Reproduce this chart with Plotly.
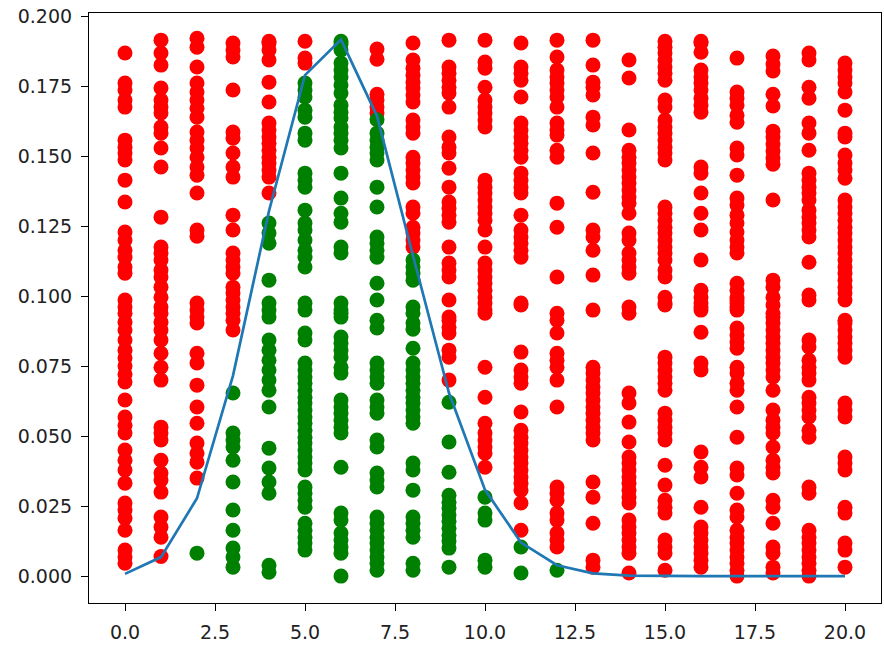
import plotly.graph_objects as go

# Binomial outcomes (x) and the probability curve
k_values = list(range(21))
pmf_values = [0.0008, 0.0068, 0.0278, 0.0716, 0.1304, 0.1789, 0.1916, 0.1643, 0.1144,
              0.0654, 0.0308, 0.0120, 0.0039, 0.0010, 0.0002, 0.0000, 0.0000, 0.0000,
              0.0000, 0.0000, 0.0000]

# Sampled heights per outcome (green if below curve, red otherwise)
y_samples = [
    [0.1868, 0.1761, 0.1736, 0.1700, 0.1675, 0.1557, 0.1532, 0.1511, 0.1486, 0.1414, 0.1336,
     0.1229, 0.1200, 0.1164, 0.1139, 0.1104, 0.1082, 0.0986, 0.0961, 0.0939, 0.0907, 0.0879,
     0.0843, 0.0807, 0.0779, 0.0750, 0.0721, 0.0693, 0.0629, 0.0568, 0.0539, 0.0511, 0.0450,
     0.0414, 0.0379, 0.0332, 0.0261, 0.0236, 0.0207, 0.0164, 0.0093, 0.0068, 0.0046],
    [0.1914, 0.1868, 0.1825, 0.1743, 0.1700, 0.1675, 0.1654, 0.1604, 0.1582, 0.1529, 0.1461,
     0.1282, 0.1175, 0.1154, 0.1129, 0.1093, 0.1068, 0.1032, 0.0996, 0.0961, 0.0939, 0.0907,
     0.0879, 0.0843, 0.0796, 0.0746, 0.0700, 0.0532, 0.0511, 0.0486, 0.0414, 0.0368, 0.0343,
     0.0300, 0.0211, 0.0175, 0.0139, 0.0070],
    [0.1921, 0.1889, 0.1818, 0.1761, 0.1729, 0.1700, 0.1671, 0.1639, 0.1586, 0.1557, 0.1529,
     0.1496, 0.1461, 0.1432, 0.1368, 0.1236, 0.1214, 0.0975, 0.0950, 0.0925, 0.0904, 0.0796,
     0.0761, 0.0682, 0.0604, 0.0546, 0.0475, 0.0439, 0.0407, 0.0350, 0.0082],
    [0.1904, 0.1879, 0.1854, 0.1736, 0.1586, 0.1564, 0.1511, 0.1461, 0.1425, 0.1289, 0.1236,
     0.1154, 0.1129, 0.1104, 0.1082, 0.1032, 0.1011, 0.0986, 0.0961, 0.0939, 0.0914, 0.0879,
     0.0654, 0.0511, 0.0486, 0.0461, 0.0414, 0.0336, 0.0236, 0.0164, 0.0100, 0.0068, 0.0032],
    [0.1910, 0.1904, 0.1879, 0.1843, 0.1764, 0.1693, 0.1618, 0.1593, 0.1568, 0.1546, 0.1521,
     0.1496, 0.1475, 0.1450, 0.1425, 0.1368, 0.1261, 0.1225, 0.1189, 0.1057, 0.0975, 0.0950,
     0.0925, 0.0843, 0.0807, 0.0771, 0.0736, 0.0700, 0.0664, 0.0604, 0.0457, 0.0386, 0.0336,
     0.0296, 0.0039, 0.0014],
    [0.1910, 0.1850, 0.1832, 0.1761, 0.1736, 0.1711, 0.1664, 0.1639, 0.1582, 0.1557, 0.1439,
     0.1414, 0.1389, 0.1307, 0.1261, 0.1236, 0.1200, 0.1164, 0.1139, 0.1104, 0.0975, 0.0950,
     0.0868, 0.0843, 0.0761, 0.0736, 0.0711, 0.0689, 0.0664, 0.0639, 0.0618, 0.0593, 0.0568,
     0.0546, 0.0521, 0.0496, 0.0475, 0.0450, 0.0425, 0.0404, 0.0379, 0.0318, 0.0296, 0.0271,
     0.0246, 0.0189, 0.0164, 0.0139, 0.0118, 0.0093],
    [0.1910, 0.1900, 0.1879, 0.1832, 0.1807, 0.1782, 0.1754, 0.1725, 0.1682, 0.1657, 0.1636,
     0.1604, 0.1582, 0.1557, 0.1529, 0.1439, 0.1350, 0.1296, 0.1264, 0.1175, 0.1154, 0.0975,
     0.0950, 0.0925, 0.0939, 0.0854, 0.0832, 0.0807, 0.0782, 0.0746, 0.0725, 0.0629, 0.0604,
     0.0582, 0.0557, 0.0532, 0.0511, 0.0389, 0.0225, 0.0200, 0.0154, 0.0129, 0.0104, 0.0082,
     0.0000],
    [0.1882, 0.1846, 0.1721, 0.1700, 0.1675, 0.1654, 0.1630, 0.1582, 0.1557, 0.1532, 0.1511,
     0.1486, 0.1389, 0.1318, 0.1211, 0.1189, 0.1164, 0.1139, 0.1046, 0.0986, 0.0914, 0.0886,
     0.0761, 0.0736, 0.0711, 0.0689, 0.0629, 0.0604, 0.0582, 0.0486, 0.0461, 0.0368, 0.0343,
     0.0318, 0.0211, 0.0189, 0.0164, 0.0139, 0.0118, 0.0093, 0.0068, 0.0046, 0.0021],
    [0.1904, 0.1843, 0.1814, 0.1789, 0.1764, 0.1743, 0.1718, 0.1693, 0.1629, 0.1604, 0.1582,
     0.1496, 0.1475, 0.1450, 0.1425, 0.1404, 0.1318, 0.1296, 0.1246, 0.1225, 0.1200, 0.1175,
     0.1129, 0.1104, 0.1082, 0.1057, 0.0961, 0.0939, 0.0904, 0.0882, 0.0814, 0.0761, 0.0736,
     0.0711, 0.0689, 0.0664, 0.0639, 0.0618, 0.0593, 0.0568, 0.0546, 0.0404, 0.0379, 0.0307,
     0.0211, 0.0189, 0.0164, 0.0139, 0.0046, 0.0021],
    [0.1914, 0.1818, 0.1796, 0.1771, 0.1746, 0.1725, 0.1675, 0.1568, 0.1532, 0.1511, 0.1457,
     0.1389, 0.1336, 0.1314, 0.1289, 0.1264, 0.1175, 0.1118, 0.1093, 0.1068, 0.0986, 0.0925,
     0.0914, 0.0889, 0.0868, 0.0807, 0.0782, 0.0700, 0.0621, 0.0479, 0.0371, 0.0289, 0.0264,
     0.0243, 0.0218, 0.0196, 0.0171, 0.0146, 0.0125, 0.0100, 0.0032],
    [0.1914, 0.1836, 0.1814, 0.1746, 0.1700, 0.1675, 0.1654, 0.1629, 0.1604, 0.1414, 0.1389,
     0.1368, 0.1343, 0.1318, 0.1296, 0.1271, 0.1236, 0.1175, 0.1118, 0.1093, 0.1068, 0.1046,
     0.1021, 0.0996, 0.0939, 0.0975, 0.0950, 0.0746, 0.0639, 0.0546, 0.0511, 0.0486, 0.0461,
     0.0439, 0.0389, 0.0282, 0.0225, 0.0200, 0.0057, 0.0032],
    [0.1904, 0.1818, 0.1796, 0.1771, 0.1711, 0.1618, 0.1593, 0.1568, 0.1546, 0.1521, 0.1496,
     0.1439, 0.1414, 0.1389, 0.1368, 0.1289, 0.1236, 0.1211, 0.1189, 0.1164, 0.1139, 0.0975,
     0.0968, 0.0800, 0.0736, 0.0711, 0.0689, 0.0586, 0.0521, 0.0496, 0.0475, 0.0450, 0.0425,
     0.0404, 0.0379, 0.0354, 0.0332, 0.0307, 0.0261, 0.0164, 0.0104, 0.0011],
    [0.1914, 0.1854, 0.1807, 0.1782, 0.1761, 0.1736, 0.1711, 0.1675, 0.1618, 0.1593, 0.1575,
     0.1521, 0.1496, 0.1332, 0.1246, 0.1068, 0.0939, 0.0914, 0.0868, 0.0796, 0.0771, 0.0746,
     0.0700, 0.0604, 0.0318, 0.0296, 0.0271, 0.0225, 0.0200, 0.0154, 0.0129, 0.0104, 0.0021],
    [0.1914, 0.1825, 0.1764, 0.1746, 0.1718, 0.1639, 0.1611, 0.1511, 0.1371, 0.1236, 0.1211,
     0.1164, 0.1075, 0.0950, 0.0746, 0.0725, 0.0700, 0.0675, 0.0654, 0.0629, 0.0604, 0.0582,
     0.0557, 0.0532, 0.0511, 0.0486, 0.0336, 0.0282, 0.0189, 0.0057, 0.0032],
    [0.1843, 0.1779, 0.1593, 0.1521, 0.1496, 0.1475, 0.1450, 0.1425, 0.1404, 0.1379, 0.1354,
     0.1332, 0.1296, 0.1225, 0.1200, 0.1154, 0.1129, 0.1104, 0.1082, 0.0961, 0.0939, 0.0654,
     0.0618, 0.0550, 0.0479, 0.0425, 0.0404, 0.0379, 0.0354, 0.0332, 0.0307, 0.0282, 0.0261,
     0.0200, 0.0175, 0.0154, 0.0129, 0.0104, 0.0082, 0.0011],
    [0.1910, 0.1889, 0.1868, 0.1843, 0.1818, 0.1796, 0.1771, 0.1700, 0.1675, 0.1629, 0.1604,
     0.1582, 0.1557, 0.1532, 0.1511, 0.1486, 0.1318, 0.1296, 0.1271, 0.1246, 0.1225, 0.1200,
     0.1175, 0.1154, 0.1129, 0.1093, 0.1068, 0.0996, 0.0975, 0.0968, 0.0782, 0.0761, 0.0736,
     0.0711, 0.0689, 0.0664, 0.0582, 0.0557, 0.0532, 0.0511, 0.0486, 0.0396, 0.0325, 0.0271,
     0.0246, 0.0225, 0.0129, 0.0104, 0.0082, 0.0021],
    [0.1910, 0.1904, 0.1871, 0.1807, 0.1782, 0.1761, 0.1736, 0.1707, 0.1682, 0.1657, 0.1461,
     0.1439, 0.1368, 0.1296, 0.1236, 0.1129, 0.1021, 0.0996, 0.0961, 0.0975, 0.0950, 0.0871,
     0.0761, 0.0736, 0.0443, 0.0389, 0.0354, 0.0246, 0.0175, 0.0154, 0.0129, 0.0104, 0.0082,
     0.0057, 0.0032],
    [0.1850, 0.1729, 0.1707, 0.1682, 0.1646, 0.1621, 0.1529, 0.1504, 0.1432, 0.1350, 0.1325,
     0.1289, 0.1261, 0.1229, 0.1200, 0.1175, 0.1154, 0.1046, 0.1021, 0.0996, 0.0975, 0.0950,
     0.0986, 0.0961, 0.0886, 0.0861, 0.0836, 0.0814, 0.0746, 0.0725, 0.0689, 0.0664, 0.0604,
     0.0496, 0.0386, 0.0361, 0.0296, 0.0236, 0.0211, 0.0164, 0.0139, 0.0118, 0.0093, 0.0068,
     0.0046, 0.0021, 0.0000],
    [0.1857, 0.1829, 0.1804, 0.1721, 0.1679, 0.1589, 0.1568, 0.1543, 0.1518, 0.1493, 0.1471,
     0.1343, 0.1057, 0.1032, 0.0996, 0.0968, 0.0939, 0.0925, 0.0904, 0.0879, 0.0854, 0.0832,
     0.0807, 0.0782, 0.0761, 0.0736, 0.0711, 0.0664, 0.0593, 0.0557, 0.0532, 0.0511, 0.0461,
     0.0414, 0.0389, 0.0368, 0.0271, 0.0246, 0.0189, 0.0104, 0.0082, 0.0032, 0.0011],
    [0.1868, 0.1843, 0.1746, 0.1707, 0.1618, 0.1582, 0.1521, 0.1439, 0.1414, 0.1389, 0.1368,
     0.1343, 0.1307, 0.1282, 0.1261, 0.1236, 0.1211, 0.1121, 0.1004, 0.0986, 0.0843, 0.0818,
     0.0771, 0.0746, 0.0725, 0.0700, 0.0639, 0.0618, 0.0593, 0.0568, 0.0521, 0.0496, 0.0318,
     0.0296, 0.0164, 0.0139, 0.0118, 0.0093, 0.0068, 0.0046, 0.0021, 0.0000],
    [0.1832, 0.1807, 0.1782, 0.1761, 0.1729, 0.1664, 0.1582, 0.1568, 0.1504, 0.1475, 0.1450,
     0.1421, 0.1343, 0.1318, 0.1296, 0.1271, 0.1246, 0.1225, 0.1200, 0.1175, 0.1154, 0.1129,
     0.1104, 0.1082, 0.1057, 0.1032, 0.1011, 0.0914, 0.0986, 0.0904, 0.0879, 0.0854, 0.0832,
     0.0807, 0.0782, 0.0618, 0.0593, 0.0568, 0.0425, 0.0404, 0.0379, 0.0246, 0.0225, 0.0118,
     0.0093, 0.0032],
]

x_tick_vals = [0, 2.5, 5, 7.5, 10, 12.5, 15, 17.5, 20]
x_tick_text = ["0.0", "2.5", "5.0", "7.5", "10.0", "12.5", "15.0", "17.5", "20.0"]
y_tick_vals = [0, 0.025, 0.05, 0.075, 0.1, 0.125, 0.15, 0.175, 0.2]
y_tick_text = ["0.000", "0.025", "0.050", "0.075", "0.100", "0.125", "0.150", "0.175", "0.200"]

xs, ys, cols = [], [], []
for k, vals in zip(k_values, y_samples):
    for v in vals:
        xs.append(k)
        ys.append(v)
        cols.append("#008000" if v < pmf_values[k] else "#ff0000")

fig = go.Figure()
fig.add_trace(go.Scatter(x=xs, y=ys, mode="markers",
                         marker=dict(size=15, color=cols, line=dict(width=0)),
                         showlegend=False, hoverinfo="skip"))
fig.add_trace(go.Scatter(x=k_values, y=pmf_values, mode="lines",
                         line=dict(color="#1f77b4", width=2.7), showlegend=False,
                         hoverinfo="skip"))

axis_common = dict(showline=True, mirror=True, linecolor="black", linewidth=1.1,
                   ticks="outside", ticklen=7, tickwidth=1.1, tickcolor="black",
                   showgrid=False, zeroline=False, automargin=False,
                   ticklabelstandoff=5,
                   tickfont=dict(family="DejaVu Sans", size=19, color="#222222"))

fig.update_layout(
    width=884, height=645,
    margin=dict(l=89, r=3, t=13, b=42),
    paper_bgcolor="white", plot_bgcolor="white",
    hovermode=False,
    xaxis=dict(range=[-1.0, 21.0], tickvals=x_tick_vals, ticktext=x_tick_text, **axis_common),
    yaxis=dict(range=[-0.0096, 0.2011], tickvals=y_tick_vals, ticktext=y_tick_text,
               ticklabeloverflow="allow", **axis_common),
)

# remove the page's default body margin so the figure sits at the window's corner
fig.write_html("out.html",
               config={"displayModeBar": False},
               post_script="document.body.style.margin='0px';document.body.style.overflow='hidden';")
